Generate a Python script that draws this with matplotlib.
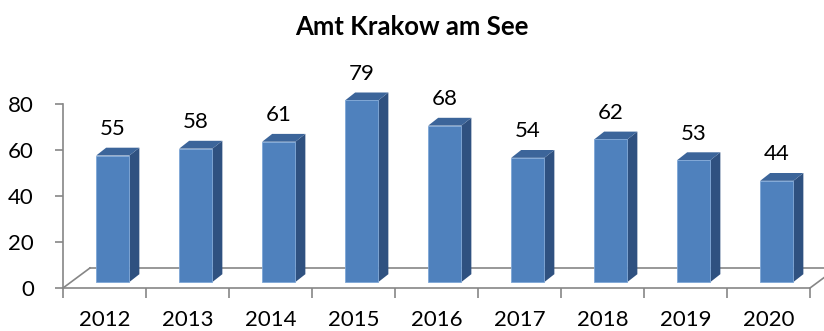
import matplotlib.pyplot as plt
from matplotlib.patches import Polygon

years = ["2012", "2013", "2014", "2015", "2016", "2017", "2018", "2019", "2020"]
counts = [55, 58, 61, 79, 68, 54, 62, 53, 44]
y_ticks = [0, 20, 40, 60, 80]

FRONT = "#4F81BD"
SIDE = "#2F5180"
TOP = "#3C659A"
AXIS = "#868686"

# pseudo-3D geometry in data units (x: category, y: value)
DEPTH = (0.325, 8.7)       # full floor depth vector
BAR_W = 0.40
BAR_X0 = 0.40              # front face left edge inside each category
BAR_LIFT = 2.6             # front face sits slightly behind the axis plane
BAR_DX, BAR_DY = 0.12, 3.4

plt.rcParams["font.family"] = ["Lato", "DejaVu Sans"]

fig = plt.figure(figsize=(8.24, 3.31), dpi=100)
ax = fig.add_axes([63 / 824, 43 / 331, 747 / 824, 184 / 331])
ax.set_xlim(0, len(years))
ax.set_ylim(0, 80)

# floor outline
dx, dy = DEPTH
n = len(years)
ax.plot([0, dx], [0, dy], color=AXIS, lw=1.2, clip_on=False)
ax.plot([dx, n + 1], [dy, dy], color=AXIS, lw=1.2, clip_on=False)
ax.plot([n, n + dx], [0, dy], color=AXIS, lw=1.2, clip_on=False)

for i, v in enumerate(counts):
    x0 = i + BAR_X0
    x1 = x0 + BAR_W
    y0 = BAR_LIFT
    y1 = BAR_LIFT + v
    side = Polygon([(x1, y0), (x1 + BAR_DX, y0 + BAR_DY),
                    (x1 + BAR_DX, y1 + BAR_DY), (x1, y1)],
                   closed=True, fc=SIDE, ec="none", clip_on=False, zorder=3)
    top = Polygon([(x0, y1), (x0 + BAR_DX, y1 + BAR_DY),
                   (x1 + BAR_DX, y1 + BAR_DY), (x1, y1)],
                  closed=True, fc=TOP, ec="none", clip_on=False, zorder=3)
    ax.add_patch(side)
    ax.add_patch(top)
    ax.bar(x0, v, width=BAR_W, bottom=y0, align="edge", color=FRONT,
           edgecolor="#7EA6D6", linewidth=0.6, zorder=4, clip_on=False)
    ax.text(x0 + BAR_W / 2, y1 + 11.5, str(v), ha="center", va="center",
            fontsize=16, color="black")

for side_name in ["top", "right"]:
    ax.spines[side_name].set_visible(False)
for side_name in ["left", "bottom"]:
    ax.spines[side_name].set_color(AXIS)
    ax.spines[side_name].set_linewidth(1.2)

ax.set_yticks(y_ticks)
ax.tick_params(axis="y", length=6, width=1.2, color=AXIS, pad=15,
               labelsize=16)
ax.set_xticks(range(n + 1))
ax.set_xticklabels([])
ax.tick_params(axis="x", which="major", direction="out", length=7,
               width=1.2, color=AXIS)
ax.set_xticks([i + 0.5 for i in range(n)], minor=True)
ax.set_xticklabels(years, minor=True)
ax.tick_params(axis="x", which="minor", length=0, pad=16, labelsize=16)

fig.text(0.5, 1 - 27 / 331, "Amt Krakow am See", ha="center", va="center",
         fontsize=18.5, fontweight="bold")

fig.savefig("out.png", dpi=100)
